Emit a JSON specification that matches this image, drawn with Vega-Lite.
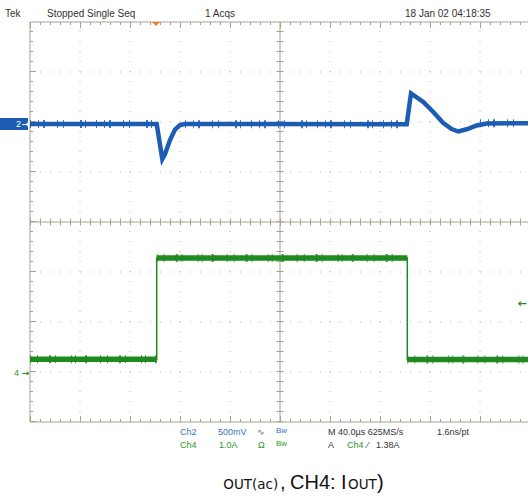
{
  "$schema": "https://vega.github.io/schema/vega-lite/v6.json",
  "width": 498,
  "height": 400,
  "autosize": {"type": "none"},
  "padding": {"left": 30, "top": 22, "right": 0, "bottom": 75},
  "background": "white",
  "config": {"view": {"stroke": null}, "font": "Liberation Sans"},
  "datasets": {
    "one": [{}],
    "ch2": [
      {"i": 0, "x": 0, "y": 1.96},
      {"i": 1, "x": 2.534, "y": 1.96},
      {"i": 2, "x": 2.646, "y": 1.26},
      {"i": 3, "x": 2.70, "y": 1.36},
      {"i": 4, "x": 2.80, "y": 1.64},
      {"i": 5, "x": 2.90, "y": 1.85},
      {"i": 6, "x": 3.00, "y": 1.94},
      {"i": 7, "x": 3.10, "y": 1.96},
      {"i": 8, "x": 7.534, "y": 1.955},
      {"i": 9, "x": 7.62, "y": 2.57},
      {"i": 10, "x": 7.866, "y": 2.40},
      {"i": 11, "x": 8.066, "y": 2.20},
      {"i": 12, "x": 8.266, "y": 1.98},
      {"i": 13, "x": 8.434, "y": 1.86},
      {"i": 14, "x": 8.566, "y": 1.81},
      {"i": 15, "x": 8.734, "y": 1.855},
      {"i": 16, "x": 8.934, "y": 1.93},
      {"i": 17, "x": 9.134, "y": 1.97},
      {"i": 18, "x": 9.96, "y": 1.975}
    ],
    "ch2seg": [
      {"x": 0, "x2": 2.534, "y": 1.96},
      {"x": 3.1, "x2": 7.534, "y": 1.955},
      {"x": 9.0, "x2": 9.96, "y": 1.975}
    ],
    "ch4": [
      {"i": 0, "x": 0, "y": -2.745},
      {"i": 1, "x": 2.534, "y": -2.745},
      {"i": 2, "x": 2.534, "y": -0.725},
      {"i": 3, "x": 7.546, "y": -0.72},
      {"i": 4, "x": 7.546, "y": -2.75},
      {"i": 5, "x": 9.96, "y": -2.75}
    ],
    "ch4seg": [
      {"x": 0, "x2": 2.534, "y": -2.745},
      {"x": 2.534, "x2": 7.546, "y": -0.722},
      {"x": 7.546, "x2": 9.96, "y": -2.75}
    ],
    "vgrid": [{"x": 1}, {"x": 2}, {"x": 3}, {"x": 4}, {"x": 6}, {"x": 7}, {"x": 8}, {"x": 9}],
    "hgrid": [{"y": -3}, {"y": -2}, {"y": -1}, {"y": 1}, {"y": 2}, {"y": 3}],
    "hdr": [
      {"t": "Tek", "x": -0.5, "y": 4.16},
      {"t": "Stopped  Single Seq", "x": 0.34, "y": 4.16},
      {"t": "1 Acqs", "x": 3.5, "y": 4.16},
      {"t": "18 Jan 02 04:18:35", "x": 7.5, "y": 4.16}
    ],
    "info9": [
      {"t": "Ch2", "x": 3.0, "y": -4.19, "ch": "Ch2"},
      {"t": "500mV", "x": 3.76, "y": -4.19, "ch": "Ch2"},
      {"t": "∿", "x": 4.54, "y": -4.19, "ch": "Ch2"},
      {"t": "M 40.0µs 625MS/s", "x": 5.96, "y": -4.19, "ch": "none"},
      {"t": "1.6ns/pt", "x": 8.14, "y": -4.19, "ch": "none"},
      {"t": "Ch4", "x": 3.0, "y": -4.45, "ch": "Ch4"},
      {"t": "1.0A", "x": 3.78, "y": -4.45, "ch": "Ch4"},
      {"t": "Ω", "x": 4.56, "y": -4.45, "ch": "Ch4"},
      {"t": "A", "x": 5.96, "y": -4.45, "ch": "none"},
      {"t": "Ch4", "x": 6.34, "y": -4.45, "ch": "Ch4"},
      {"t": "⁄", "x": 6.74, "y": -4.45, "ch": "none"},
      {"t": "1.38A", "x": 6.92, "y": -4.45, "ch": "none"}
    ],
    "info8": [
      {"t": "Bw", "x": 4.92, "y": -4.18, "ch": "Ch2"},
      {"t": "Bw", "x": 4.92, "y": -4.44, "ch": "Ch4"}
    ],
    "capS": [
      {"t": "OUT(ac)", "x": 3.866, "y": -5.34},
      {"t": "OUT", "x": 6.36, "y": -5.34}
    ],
    "capB": [
      {"t": ",", "x": 5.0, "y": -5.34},
      {"t": "CH4: I", "x": 5.2, "y": -5.34},
      {"t": ")", "x": 6.94, "y": -5.34}
    ]
  },
  "layer": [
    {
      "data": {"name": "vgrid"},
      "mark": {"type": "rule", "color": "#b4b4b4", "strokeWidth": 1, "strokeDash": [1, 9]},
      "encoding": {
        "x": {"field": "x", "type": "quantitative", "scale": {"domain": [0, 9.96], "nice": false}, "axis": null},
        "y": {"datum": -4, "type": "quantitative", "scale": {"domain": [-4, 4], "nice": false}, "axis": null},
        "y2": {"datum": 4}
      }
    },
    {
      "data": {"name": "hgrid"},
      "mark": {"type": "rule", "color": "#b4b4b4", "strokeWidth": 1, "strokeDash": [1, 9]},
      "encoding": {
        "y": {"field": "y", "type": "quantitative", "scale": {"domain": [-4, 4], "nice": false}, "axis": null},
        "x": {"datum": 0, "type": "quantitative", "scale": {"domain": [0, 9.96], "nice": false}, "axis": null},
        "x2": {"datum": 9.96}
      }
    },
    {
      "data": {"name": "one"},
      "mark": {"type": "rule", "color": "#a9a090", "strokeWidth": 1},
      "encoding": {
        "x": {"datum": 5, "type": "quantitative", "scale": {"domain": [0, 9.96], "nice": false}, "axis": null},
        "y": {"datum": -4, "type": "quantitative", "scale": {"domain": [-4, 4], "nice": false}, "axis": null},
        "y2": {"datum": 4}
      }
    },
    {
      "data": {"name": "one"},
      "mark": {"type": "rule", "color": "#a9a090", "strokeWidth": 1},
      "encoding": {
        "y": {"datum": 0, "type": "quantitative", "scale": {"domain": [-4, 4], "nice": false}, "axis": null},
        "x": {"datum": 0, "type": "quantitative", "scale": {"domain": [0, 9.96], "nice": false}, "axis": null},
        "x2": {"datum": 9.96}
      }
    },
    {
      "data": {"name": "one"},
      "mark": {"type": "rule", "color": "#a9a090", "strokeWidth": 7, "strokeDash": [1, 9]},
      "encoding": {
        "x": {"datum": 5, "type": "quantitative", "scale": {"domain": [0, 9.96], "nice": false}, "axis": null},
        "y": {"datum": -4, "type": "quantitative", "scale": {"domain": [-4, 4], "nice": false}, "axis": null},
        "y2": {"datum": 4}
      }
    },
    {
      "data": {"name": "one"},
      "mark": {"type": "rule", "color": "#a9a090", "strokeWidth": 7, "strokeDash": [1, 9]},
      "encoding": {
        "y": {"datum": 0, "type": "quantitative", "scale": {"domain": [-4, 4], "nice": false}, "axis": null},
        "x": {"datum": 0, "type": "quantitative", "scale": {"domain": [0, 9.96], "nice": false}, "axis": null},
        "x2": {"datum": 9.96}
      }
    },
    {
      "data": {"name": "one"},
      "mark": {"type": "rule", "color": "#a9a090", "strokeWidth": 1},
      "encoding": {
        "x": {"datum": 0, "type": "quantitative", "scale": {"domain": [0, 9.96], "nice": false}, "axis": null},
        "y": {"datum": -4, "type": "quantitative", "scale": {"domain": [-4, 4], "nice": false}, "axis": null},
        "y2": {"datum": 4}
      }
    },
    {
      "data": {"name": "one"},
      "mark": {"type": "rule", "color": "#a9a090", "strokeWidth": 1},
      "encoding": {
        "y": {"datum": 4, "type": "quantitative", "scale": {"domain": [-4, 4], "nice": false}, "axis": null},
        "x": {"datum": 0, "type": "quantitative", "scale": {"domain": [0, 9.96], "nice": false}, "axis": null},
        "x2": {"datum": 9.96}
      }
    },
    {
      "data": {"name": "one"},
      "mark": {"type": "rule", "color": "#a9a090", "strokeWidth": 1},
      "encoding": {
        "y": {"datum": -4, "type": "quantitative", "scale": {"domain": [-4, 4], "nice": false}, "axis": null},
        "x": {"datum": 0, "type": "quantitative", "scale": {"domain": [0, 9.96], "nice": false}, "axis": null},
        "x2": {"datum": 9.96}
      }
    },
    {
      "data": {"name": "one"},
      "mark": {"type": "rule", "color": "#a9a090", "strokeWidth": 3, "strokeDash": [1, 9], "yOffset": 1.5},
      "encoding": {
        "y": {"datum": 4, "type": "quantitative", "scale": {"domain": [-4, 4], "nice": false}, "axis": null},
        "x": {"datum": 0, "type": "quantitative", "scale": {"domain": [0, 9.96], "nice": false}, "axis": null},
        "x2": {"datum": 9.96}
      }
    },
    {
      "data": {"name": "one"},
      "mark": {"type": "rule", "color": "#a9a090", "strokeWidth": 6, "strokeDash": [1, 49], "yOffset": 3},
      "encoding": {
        "y": {"datum": 4, "type": "quantitative", "scale": {"domain": [-4, 4], "nice": false}, "axis": null},
        "x": {"datum": 0, "type": "quantitative", "scale": {"domain": [0, 9.96], "nice": false}, "axis": null},
        "x2": {"datum": 9.96}
      }
    },
    {
      "data": {"name": "one"},
      "mark": {"type": "rule", "color": "#a9a090", "strokeWidth": 3, "strokeDash": [1, 9], "yOffset": -1.5},
      "encoding": {
        "y": {"datum": -4, "type": "quantitative", "scale": {"domain": [-4, 4], "nice": false}, "axis": null},
        "x": {"datum": 0, "type": "quantitative", "scale": {"domain": [0, 9.96], "nice": false}, "axis": null},
        "x2": {"datum": 9.96}
      }
    },
    {
      "data": {"name": "one"},
      "mark": {"type": "rule", "color": "#a9a090", "strokeWidth": 6, "strokeDash": [1, 49], "yOffset": -3},
      "encoding": {
        "y": {"datum": -4, "type": "quantitative", "scale": {"domain": [-4, 4], "nice": false}, "axis": null},
        "x": {"datum": 0, "type": "quantitative", "scale": {"domain": [0, 9.96], "nice": false}, "axis": null},
        "x2": {"datum": 9.96}
      }
    },
    {
      "data": {"name": "one"},
      "mark": {"type": "rule", "color": "#a9a090", "strokeWidth": 3, "strokeDash": [1, 9], "xOffset": 1.5},
      "encoding": {
        "x": {"datum": 0, "type": "quantitative", "scale": {"domain": [0, 9.96], "nice": false}, "axis": null},
        "y": {"datum": -4, "type": "quantitative", "scale": {"domain": [-4, 4], "nice": false}, "axis": null},
        "y2": {"datum": 4}
      }
    },
    {
      "data": {"name": "one"},
      "mark": {"type": "rule", "color": "#a9a090", "strokeWidth": 6, "strokeDash": [1, 49], "xOffset": 3},
      "encoding": {
        "x": {"datum": 0, "type": "quantitative", "scale": {"domain": [0, 9.96], "nice": false}, "axis": null},
        "y": {"datum": -4, "type": "quantitative", "scale": {"domain": [-4, 4], "nice": false}, "axis": null},
        "y2": {"datum": 4}
      }
    },
    {
      "data": {"name": "ch4"},
      "mark": {"type": "line", "color": "#1f8a1f", "strokeWidth": 1.5},
      "encoding": {
        "x": {"field": "x", "type": "quantitative", "scale": {"domain": [0, 9.96], "nice": false}, "axis": null},
        "y": {"field": "y", "type": "quantitative", "scale": {"domain": [-4, 4], "nice": false}, "axis": null},
        "order": {"field": "i"}
      }
    },
    {
      "data": {"name": "ch4seg"},
      "mark": {"type": "rule", "color": "#1f8a1f", "strokeWidth": 5.5},
      "encoding": {
        "x": {"field": "x", "type": "quantitative", "scale": {"domain": [0, 9.96], "nice": false}, "axis": null},
        "x2": {"field": "x2"},
        "y": {"field": "y", "type": "quantitative", "scale": {"domain": [-4, 4], "nice": false}, "axis": null}
      }
    },
    {
      "data": {"name": "ch4seg"},
      "mark": {"type": "rule", "color": "#1f8a1f", "strokeWidth": 8, "opacity": 0.85, "strokeDash": [1, 6, 1, 11, 2, 4, 1, 15, 1, 3, 1, 9, 2, 13]},
      "encoding": {
        "x": {"field": "x", "type": "quantitative", "scale": {"domain": [0, 9.96], "nice": false}, "axis": null},
        "x2": {"field": "x2"},
        "y": {"field": "y", "type": "quantitative", "scale": {"domain": [-4, 4], "nice": false}, "axis": null}
      }
    },
    {
      "data": {"name": "ch2"},
      "mark": {"type": "line", "color": "#1d5cb3", "strokeWidth": 4.5},
      "encoding": {
        "x": {"field": "x", "type": "quantitative", "scale": {"domain": [0, 9.96], "nice": false}, "axis": null},
        "y": {"field": "y", "type": "quantitative", "scale": {"domain": [-4, 4], "nice": false}, "axis": null},
        "order": {"field": "i"}
      }
    },
    {
      "data": {"name": "ch2seg"},
      "mark": {"type": "rule", "color": "#1d5cb3", "strokeWidth": 8, "opacity": 0.85, "strokeDash": [1, 7, 1, 4, 2, 12, 1, 5, 1, 16, 2, 3, 1, 10]},
      "encoding": {
        "x": {"field": "x", "type": "quantitative", "scale": {"domain": [0, 9.96], "nice": false}, "axis": null},
        "x2": {"field": "x2"},
        "y": {"field": "y", "type": "quantitative", "scale": {"domain": [-4, 4], "nice": false}, "axis": null}
      }
    },
    {
      "data": {"name": "one"},
      "mark": {"type": "point", "shape": "M-1,-0.5L1,-0.5L0,0.5Z", "filled": true, "color": "#f07d2a", "opacity": 1, "size": 64, "yOffset": 2},
      "encoding": {
        "x": {"datum": 2.52, "type": "quantitative", "scale": {"domain": [0, 9.96], "nice": false}, "axis": null},
        "y": {"datum": 4, "type": "quantitative", "scale": {"domain": [-4, 4], "nice": false}, "axis": null}
      }
    },
    {
      "data": {"name": "one"},
      "mark": {"type": "rect", "color": "#1d5cb3"},
      "encoding": {
        "x": {"datum": -0.6, "type": "quantitative", "scale": {"domain": [0, 9.96], "nice": false}, "axis": null},
        "x2": {"datum": -0.04},
        "y": {"datum": 2.08, "type": "quantitative", "scale": {"domain": [-4, 4], "nice": false}, "axis": null},
        "y2": {"datum": 1.84}
      }
    },
    {
      "data": {"name": "one"},
      "mark": {"type": "text", "text": "2", "color": "white", "fontSize": 9, "align": "center", "baseline": "middle"},
      "encoding": {
        "x": {"datum": -0.23, "type": "quantitative", "scale": {"domain": [0, 9.96], "nice": false}, "axis": null},
        "y": {"datum": 1.96, "type": "quantitative", "scale": {"domain": [-4, 4], "nice": false}, "axis": null}
      }
    },
    {
      "data": {"name": "one"},
      "mark": {"type": "text", "text": "→", "font": "DejaVu Sans", "color": "white", "fontSize": 9, "fontWeight": "bold", "align": "center", "baseline": "middle"},
      "encoding": {
        "x": {"datum": -0.09, "type": "quantitative", "scale": {"domain": [0, 9.96], "nice": false}, "axis": null},
        "y": {"datum": 1.96, "type": "quantitative", "scale": {"domain": [-4, 4], "nice": false}, "axis": null}
      }
    },
    {
      "data": {"name": "one"},
      "mark": {"type": "text", "text": "4", "color": "#2a962a", "fontSize": 9, "align": "center", "baseline": "middle"},
      "encoding": {
        "x": {"datum": -0.27, "type": "quantitative", "scale": {"domain": [0, 9.96], "nice": false}, "axis": null},
        "y": {"datum": -3.02, "type": "quantitative", "scale": {"domain": [-4, 4], "nice": false}, "axis": null}
      }
    },
    {
      "data": {"name": "one"},
      "mark": {"type": "text", "text": "→", "font": "DejaVu Sans", "color": "#1f8a1f", "fontSize": 9, "fontWeight": "bold", "align": "center", "baseline": "middle"},
      "encoding": {
        "x": {"datum": -0.09, "type": "quantitative", "scale": {"domain": [0, 9.96], "nice": false}, "axis": null},
        "y": {"datum": -3.02, "type": "quantitative", "scale": {"domain": [-4, 4], "nice": false}, "axis": null}
      }
    },
    {
      "data": {"name": "one"},
      "mark": {"type": "text", "text": "←", "font": "DejaVu Sans", "color": "#1f8a1f", "fontSize": 11, "fontWeight": "bold", "align": "center", "baseline": "middle"},
      "encoding": {
        "x": {"datum": 9.84, "type": "quantitative", "scale": {"domain": [0, 9.96], "nice": false}, "axis": null},
        "y": {"datum": -1.63, "type": "quantitative", "scale": {"domain": [-4, 4], "nice": false}, "axis": null}
      }
    },
    {
      "data": {"name": "hdr"},
      "mark": {"type": "text", "color": "#333333", "fontSize": 10, "align": "left", "baseline": "middle"},
      "encoding": {
        "x": {"field": "x", "type": "quantitative", "scale": {"domain": [0, 9.96], "nice": false}, "axis": null},
        "y": {"field": "y", "type": "quantitative", "scale": {"domain": [-4, 4], "nice": false}, "axis": null},
        "text": {"field": "t"}
      }
    },
    {
      "data": {"name": "info9"},
      "mark": {"type": "text", "fontSize": 9, "align": "left", "baseline": "middle"},
      "encoding": {
        "x": {"field": "x", "type": "quantitative", "scale": {"domain": [0, 9.96], "nice": false}, "axis": null},
        "y": {"field": "y", "type": "quantitative", "scale": {"domain": [-4, 4], "nice": false}, "axis": null},
        "text": {"field": "t"},
        "color": {"field": "ch", "type": "nominal", "scale": {"domain": ["Ch2", "Ch4", "none"], "range": ["#3a70c4", "#2a962a", "#333333"]}, "legend": null}
      }
    },
    {
      "data": {"name": "info8"},
      "mark": {"type": "text", "fontSize": 8, "align": "left", "baseline": "middle"},
      "encoding": {
        "x": {"field": "x", "type": "quantitative", "scale": {"domain": [0, 9.96], "nice": false}, "axis": null},
        "y": {"field": "y", "type": "quantitative", "scale": {"domain": [-4, 4], "nice": false}, "axis": null},
        "text": {"field": "t"},
        "color": {"field": "ch", "type": "nominal", "scale": {"domain": ["Ch2", "Ch4", "none"], "range": ["#3a70c4", "#2a962a", "#333333"]}, "legend": null}
      }
    },
    {
      "data": {"name": "capS"},
      "mark": {"type": "text", "color": "#111111", "font": "DejaVu Sans", "fontSize": 13.5, "align": "left", "baseline": "alphabetic"},
      "encoding": {
        "x": {"field": "x", "type": "quantitative", "scale": {"domain": [0, 9.96], "nice": false}, "axis": null},
        "y": {"field": "y", "type": "quantitative", "scale": {"domain": [-4, 4], "nice": false}, "axis": null},
        "text": {"field": "t"}
      }
    },
    {
      "data": {"name": "capB"},
      "mark": {"type": "text", "color": "#111111", "font": "Liberation Sans", "fontSize": 20, "align": "left", "baseline": "alphabetic"},
      "encoding": {
        "x": {"field": "x", "type": "quantitative", "scale": {"domain": [0, 9.96], "nice": false}, "axis": null},
        "y": {"field": "y", "type": "quantitative", "scale": {"domain": [-4, 4], "nice": false}, "axis": null},
        "text": {"field": "t"}
      }
    }
  ]
}
